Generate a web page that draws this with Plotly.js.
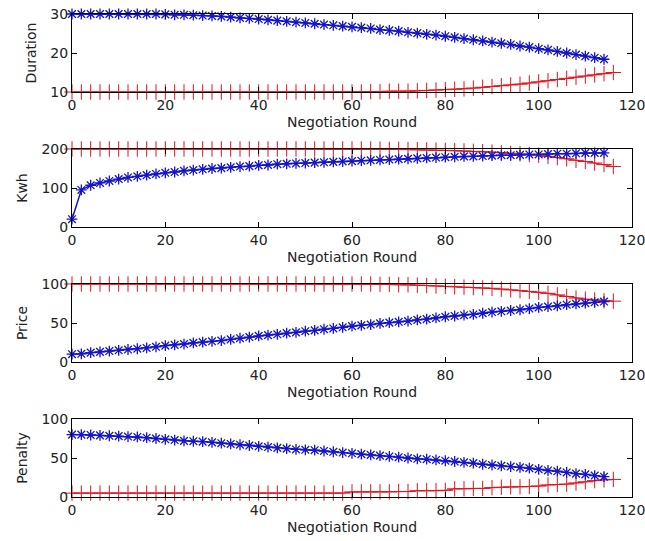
<!DOCTYPE html>
<html><head><meta charset="utf-8">
<script src="https://cdn.plot.ly/plotly-3.0.1.min.js"></script>
<style>html,body{margin:0;padding:0;background:#fff;overflow:hidden}#chart{width:645px;height:541px}</style>
</head><body><div id="chart"></div>
<script>
var roundsBuyer = [0,2,4,6,8,10,12,14,16,18,20,22,24,26,28,30,32,34,36,38,40,42,44,46,48,50,52,54,56,58,60,62,64,66,68,70,72,74,76,78,80,82,84,86,88,90,92,94,96,98,100,102,104,106,108,110,112,114];
var roundsSeller = [0,2,4,6,8,10,12,14,16,18,20,22,24,26,28,30,32,34,36,38,40,42,44,46,48,50,52,54,56,58,60,62,64,66,68,70,72,74,76,78,80,82,84,86,88,90,92,94,96,98,100,102,104,106,108,110,112,114,116];

var durationBuyer = [30,30,30,30,30,30,30,30,30,30,29.9,29.8,29.8,29.7,29.6,29.5,29.4,29.2,29.0,28.9,28.7,28.5,28.3,28.1,27.9,27.7,27.5,27.3,27.1,26.9,26.7,26.5,26.3,26.0,25.8,25.6,25.3,25.1,24.8,24.6,24.3,24.0,23.7,23.4,23.1,22.8,22.5,22.2,21.8,21.5,21.1,20.8,20.4,20.0,19.6,19.2,18.8,18.4];
var durationSeller = [10,10,10,10,10,10,10,10,10,10,10,10,10,10,10,10,10,10,10,10,10,10,10,10,10,10,10,10,10,10,10,10,10.1,10.1,10.2,10.2,10.2,10.3,10.4,10.5,10.6,10.7,10.8,11.0,11.2,11.4,11.6,11.8,12.0,12.3,12.6,12.9,13.2,13.5,13.8,14.1,14.4,14.7,15.0];

var kwhBuyer = [20,95,107,113,118,123,127,130,133,136,139,141,144,146,148,150,151,153,155,156,158,159,161,162,163,164,165,166,167,168,169,170,171,172,173,174,175,176,177,178,179,180,181,181,182,183,184,184,185,186,186,187,188,188,189,190,190,190];
var kwhSeller = [200,200,200,200,200,200,200,200,200,200,200,200,200,200,200,200,200,200,200,200,200,200,200,200,200,200,200,200,200,200,200,200,200,199.5,199,199,198.5,198,197.5,197,196.5,196,195,194,193,192,190.5,189,187.5,186,184,181,178,175,171,168,164,160,155];

var priceBuyer = [10,10.5,12,13,14,15,16,17,18,19.5,21,22,23,24.5,25.5,26.5,27.5,29,30.5,32,33.5,34.5,35.5,37,38,39.5,40.5,42,43,44.5,46,47,48,49.5,50.5,51.5,52.5,54,55,56.5,58,59,60,61,62.5,64,65,66,67,68.5,70,71,72,73.5,74.5,75.5,76.5,77.5];
var priceSeller = [100,100,100,100,100,100,100,100,100,100,100,100,100,100,100,100,100,100,100,100,100,100,100,100,100,100,100,100,100,100,100,100,100,99.5,99.5,99,99,98.5,98,97.5,97,96.5,96,95.5,95,94.5,93.5,92.5,91.5,90.5,89.5,88,86,84,82,80.5,79.5,78.5,78];

var penaltyBuyer = [80,80,79.5,79,78.5,78,77.5,77,76,75,74,73,72,71.5,71,70,69,68,67,66,65,64,63,62,61,60.5,60,59,58,57,56,55,54,53,52,51,50,49,48.5,47.5,46.5,45.5,44.5,43.5,42,41,40,39,38,37,35.5,34,33,31.5,30,29,27.5,26];
var penaltySeller = [5,5,5,5,5,5,5,5,5,5,5,5,5,5,5,5,5,5,5,5,5,5,5,5,5,5,5,5,5,5,6.5,6.5,6.5,6.5,6.5,7,7,8,8,8,8.5,10.5,10.5,11,11,12,12.5,13,13,13.5,14,15.5,16,16.5,18,19.5,21,22,22.5];

var yTitles = ['Duration','Kwh','Price','Penalty'];
var yRanges = [[10,30],[0,200],[0,100],[0,100]];
var yTicks = [[10,20,30],[0,100,200],[0,50,100],[0,50,100]];
var xTicks = [0,20,40,60,80,100,120];
var xTitle = 'Negotiation Round';

var buyerSeries = [durationBuyer,kwhBuyer,priceBuyer,penaltyBuyer];
var sellerSeries = [durationSeller,kwhSeller,priceSeller,penaltySeller];

var H = 483;
var pix = [[14,92],[149,227],[284,362],[419,497]];
var font = {family:'DejaVu Sans, sans-serif', size:14, color:'#222'};

var data = [];
var layout = {
  width:645, height:541,
  margin:{l:72, r:13, t:14, b:44},
  paper_bgcolor:'#fff', plot_bgcolor:'#fff',
  showlegend:false, font:font
};
for (var i=0;i<4;i++){
  var xa = i===0 ? 'x' : 'x'+(i+1);
  var ya = i===0 ? 'y' : 'y'+(i+1);
  data.push({x:roundsSeller, y:sellerSeries[i], xaxis:xa, yaxis:ya, type:'scatter', mode:'lines+markers',
    line:{color:'#e0141e', width:1},
    marker:{symbol:'cross-thin-open', size:11, line:{color:'#e0141e', width:1}}, cliponaxis:false});
  data.push({x:roundsBuyer, y:buyerSeries[i], xaxis:xa, yaxis:ya, type:'scatter', mode:'lines+markers',
    line:{color:'#1414c8', width:1.5},
    marker:{symbol:'asterisk-open', size:9, line:{color:'#1010d0', width:1.3}}, cliponaxis:false});
  var d0 = (497-pix[i][1])/H, d1 = (497-pix[i][0])/H;
  var axCommon = {showline:true, linecolor:'#000', linewidth:1, mirror:'allticks', ticks:'inside', ticklen:5,
    tickcolor:'#000', showgrid:false, zeroline:false, tickfont:font, ticklabeloverflow:'allow'};
  layout['xaxis'+(i===0?'':(i+1))] = Object.assign({}, axCommon, {anchor:ya, domain:[0,1], range:[0,120],
    tickvals:xTicks, ticktext:xTicks.map(String), title:{text:xTitle, font:font, standoff:5}});
  layout['yaxis'+(i===0?'':(i+1))] = Object.assign({}, axCommon, {anchor:xa, domain:[d0,d1], range:yRanges[i],
    tickvals:yTicks[i], ticktext:yTicks[i].map(String), title:{text:yTitles[i], font:font, standoff:10}});
}
Plotly.newPlot('chart', data, layout, {displayModeBar:false, staticPlot:true});
</script></body></html>
